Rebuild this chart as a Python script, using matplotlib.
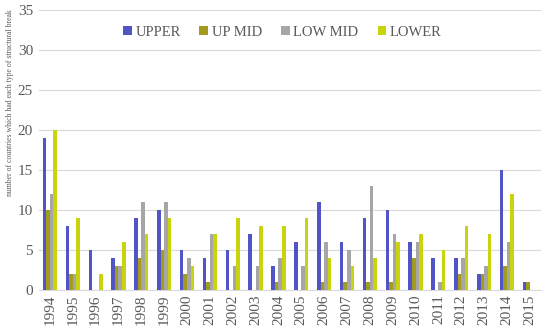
import matplotlib
matplotlib.use("Agg")
import matplotlib.pyplot as plt
import numpy as np

years = [str(y) for y in range(1994, 2016)]
upper   = [19, 8, 5, 4, 9, 10, 5, 4, 5, 7, 3, 6, 11, 6, 9, 10, 6, 4, 4, 2, 15, 1]
up_mid  = [10, 2, 0, 3, 4, 5, 2, 1, 0, 0, 1, 0, 1, 1, 1, 1, 4, 0, 2, 2, 3, 1]
low_mid = [12, 2, 0, 3, 11, 11, 4, 7, 3, 3, 4, 3, 6, 5, 13, 7, 6, 1, 4, 3, 6, 0]
lower   = [20, 9, 2, 6, 7, 9, 3, 7, 9, 8, 8, 9, 4, 3, 4, 6, 7, 5, 8, 7, 12, 0]
series = [("UPPER", upper, "#5054c4"), ("UP MID", up_mid, "#a39b1e"),
          ("LOW MID", low_mid, "#a6a6a6"), ("LOWER", lower, "#cad40c")]

plt.rcParams['font.family'] = ['Liberation Serif', 'DejaVu Serif']
fig = plt.figure(figsize=(5.5, 3.31), dpi=100)
ax = fig.add_axes([0.070, 0.124, 0.914, 0.846])
x = np.arange(len(years))
w = 0.155
for i, (name, vals, col) in enumerate(series):
    ax.bar(x + (i - 1.5) * w, vals, width=w, color=col, label=name, zorder=3)

ax.set_xlim(-0.5, len(years) - 0.5)
ax.set_ylim(0, 35)
ax.set_yticks(range(0, 36, 5))
ax.yaxis.grid(True, color="#d9d9d9", linewidth=0.8, zorder=0)
ax.set_xticks(x)
ax.set_xticklabels(years, rotation=90)
ax.tick_params(axis='both', length=0, labelsize=11, colors="#595959")
ax.tick_params(axis='x', pad=3)
ax.tick_params(axis='y', pad=4)
for s in ["top", "right", "left"]:
    ax.spines[s].set_visible(False)
ax.spines["bottom"].set_color("#d9d9d9")
fig.text(0.018, 0.69, "number of countries which had each type of structural break",
         rotation=90, fontsize=5.6, color="#595959", ha="center", va="center")
ax.legend(loc="upper center", bbox_to_anchor=(0.485, 0.99), ncol=4, frameon=False,
          fontsize=10.5, handlelength=0.6, handleheight=0.6, columnspacing=1.3,
          handletextpad=0.25, labelcolor="#595959")
fig.savefig("out.png", dpi=100)
